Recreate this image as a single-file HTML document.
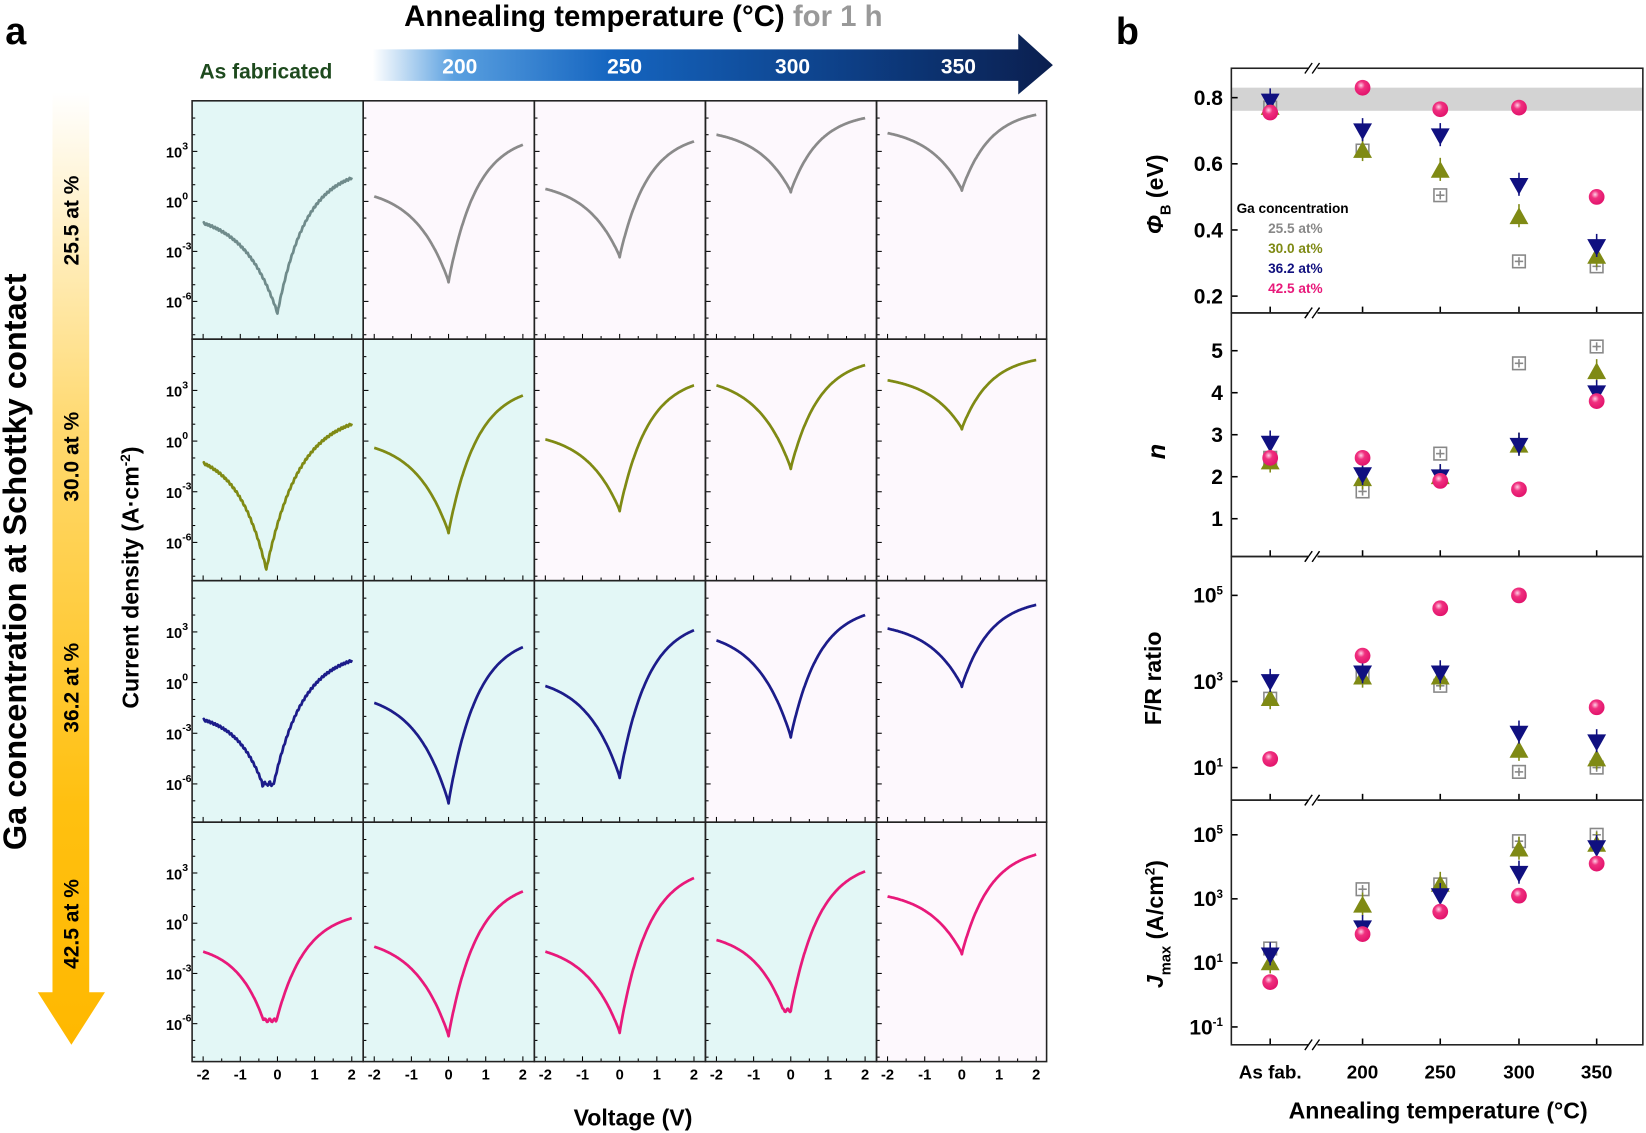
<!DOCTYPE html>
<html><head><meta charset="utf-8"><style>
html,body{margin:0;padding:0;background:#fff}
svg{display:block}
text{font-family:"Liberation Sans",Arial,sans-serif;font-weight:bold}
</style></head><body>
<svg id="s" xmlns="http://www.w3.org/2000/svg" width="1646" height="1133" viewBox="0 0 1568 1079" preserveAspectRatio="none">
<defs>
<linearGradient id="ga" x1="0" x2="1" y1="0" y2="0">
<stop offset="0" stop-color="#ffffff"/><stop offset="0.12" stop-color="#5aa0e0"/><stop offset="0.35" stop-color="#1565c0"/><stop offset="0.7" stop-color="#0d3f86"/><stop offset="1" stop-color="#0b1f4f"/></linearGradient>
<linearGradient id="gv" x1="0" x2="0" y1="0" y2="1">
<stop offset="0" stop-color="#ffffff"/><stop offset="0.35" stop-color="#ffd970"/><stop offset="0.75" stop-color="#ffc010"/><stop offset="1" stop-color="#ffb800"/></linearGradient>
<radialGradient id="pk" cx="0.4" cy="0.35" r="0.7"><stop offset="0" stop-color="#ffd0e6"/><stop offset="0.35" stop-color="#f0307f"/><stop offset="1" stop-color="#e0106a"/></radialGradient>
</defs>
<g id="g"></g>
</svg>
<script>
const g=document.getElementById('g');let h='';
function T(x,y,s,sz,opt){opt=opt||{};h+=`<text x="${x}" y="${y}" font-size="${sz}" fill="${opt.c||'#000'}" text-anchor="${opt.a||'start'}" ${opt.t?`transform="${opt.t}"`:''} ${opt.i?'font-style="italic"':''}>${s}</text>`;}
T(5,42,'a',36);T(1063,42,'b',36);
T(385,25,'Annealing temperature (°C) <tspan fill="#999">for 1 h</tspan>',28);
h+=`<polygon points="355,47 970,47 970,32 1003,62 970,90 970,77 355,77" fill="url(#ga)"/>`;
T(190,75,'As fabricated',20,{c:'#1e4a1e'});
[[438,'200'],[595,'250'],[755,'300'],[913,'350']].forEach(a=>T(a[0],70,a[1],20,{c:'#fff',a:'middle'}));
h+=`<polygon points="50,88 85,88 85,945 100,945 68,995 36,945 50,945" fill="url(#gv)"/>`;
[[210,'25.5 at %'],[435,'30.0 at %'],[655,'36.2 at %'],[880,'42.5 at %']].forEach(a=>T(75,a[0],a[1],20,{a:'middle',t:`rotate(-90 75 ${a[0]})`}));
T(25,535,'Ga concentration at Schottky contact',31,{a:'middle',t:'rotate(-90 25 535)'});
T(132,550,'Current density (A·cm<tspan dy="-8" font-size="13">-2</tspan><tspan dy="8">)</tspan>',22,{a:'middle',t:'rotate(-90 132 550)'});
T(603,1072,'Voltage (V)',22,{a:'middle'});
const cx=[183,346,509,672,835,997],ry=[96,323,553,783,1011];
const cyan=[[1,0,0,0,0],[1,1,0,0,0],[1,1,1,0,0],[1,1,1,1,0]];
const cols=['#8a8a8a','#7f8a14','#1c1c8a','#e8197a'];
const P=[
[[-1.3,-6.7,1.4,0,0],[0.3,-4.8,3.4,0,0],[0.75,-3.3,3.6,0,0],[4.0,0.6,5.0,0,0],[4.1,0.7,5.2,0,0]],
[[-1.3,-7.6,1.0,-0.3,0],[-0.4,-5.4,2.7,0,0],[0.1,-4.1,3.3,0,0],[3.3,-1.6,4.5,0,0],[3.6,0.75,4.8,0,0]],
[[-2.2,-6.0,1.3,-0.25,0.3],[-1.2,-7.1,2.1,0,0],[-0.2,-5.6,3.1,0,0],[2.5,-3.2,4.0,0,0],[3.2,-0.2,4.6,0,0]],
[[-1.7,-5.8,0.3,-0.2,0.35],[-1.4,-6.7,1.9,0,0],[-1.7,-6.5,2.7,0,0],[-1.0,-5.2,3.1,-0.1,0.2],[1.6,-1.8,4.1,0,0]]];
const G=(t,k)=>(1-Math.exp(-k*t))/(1-Math.exp(-k));
for(let r=0;r<4;r++){const top=ry[r],bot=ry[r+1],z=top+(bot-top)*0.422;const ppd=(bot-top)/14.3;
 for(let c=0;c<5;c++){const L=cx[c],R=cx[c+1];
  h+=`<rect x="${L}" y="${top}" width="${R-L}" height="${bot-top}" fill="${cyan[r][c]?'#e3f7f6':'#fdf8fd'}"/>`;
  const X=v=>L+10.5+(v+2)*35.4,Y=l=>z-l*ppd;
  const [s,m,e,v0,pl]=P[r][c];let d='';
  for(let i=0;i<=200;i++){const v=-2+4*i/200;let l;
   const a=v0-pl/2,b=v0+pl/2;
   if(v<a){const t=(a-v)/(a+2);l=m+(s-m)*G(t,2.2);}
   else if(v>b){const t=(v-b)/(2-b);l=m+(e-m)*G(t,2.6);}
   else l=m+0.1*Math.sin(i);
   if(c==0&&r<3) l+=Math.sin(i*1.7)*0.06;
   d+=(i?'L':'M')+X(v).toFixed(1)+','+Y(l).toFixed(1);}
  h+=`<path d="${d}" fill="none" stroke="${r==0&&c==0?'#6f8b8b':cols[r]}" stroke-width="2.6" stroke-linejoin="round"/>`;
  for(let k=-8;k<=6;k++){const y=Y(k);if(y>top+1&&y<bot-1)h+=`<line x1="${L}" x2="${L+(k%3==0?5:3)}" y1="${y}" y2="${y}" stroke="#000"/>`;}
  for(let k=-4;k<=4;k++){const x=X(k/2);h+=`<line x1="${x}" x2="${x}" y1="${bot}" y2="${bot-(k%2==0?5:3)}" stroke="#000"/>`;}
  if(c==0)[3,0,-3,-6].forEach(k=>T(158,Y(k)+6,`10<tspan dy="-8" font-size="10">${k}</tspan>`,14));
  if(r==3)[-2,-1,0,1,2].forEach(k=>T(X(k),1028,k,14,{a:'middle'}));
 }}
for(let r=0;r<4;r++)for(let c=0;c<5;c++)h+=`<rect x="${cx[c]}" y="${ry[r]}" width="${cx[c+1]-cx[c]}" height="${ry[r+1]-ry[r]}" fill="none" stroke="#222" stroke-width="1.5"/>`;
const bx=[1210,1298,1372,1447,1521],bL=1173,bR=1565,by=[65,298,530,762,995];
h+=`<rect x="${bL}" y="83.5" width="${bR-bL}" height="22" fill="#d3d3d3"/>`;
function sq(x,y){h+=`<rect x="${x-6}" y="${y-6}" width="12" height="12" fill="none" stroke="#888" stroke-width="1.5"/><line x1="${x-4}" x2="${x+4}" y1="${y}" y2="${y}" stroke="#888" stroke-width="1.5"/><line x1="${x}" x2="${x}" y1="${y-4}" y2="${y+4}" stroke="#888" stroke-width="1.5"/>`;}
function up(x,y){h+=`<polygon points="${x},${y-9} ${x+9},${y+7} ${x-9},${y+7}" fill="#7f8a14"/>`;}
function dn(x,y){h+=`<polygon points="${x-9},${y-7} ${x+9},${y-7} ${x},${y+9}" fill="#101080"/>`;}
function ci(x,y){h+=`<circle cx="${x}" cy="${y}" r="7.5" fill="url(#pk)"/>`;}
const fns=[sq,up,dn,ci];
const B=[
{f:v=>93-(v-0.8)*315,d:[[0.77,0.64,0.505,0.305,0.29],[0.77,0.64,0.58,0.44,0.32],[0.79,0.70,0.685,0.535,0.35],[0.755,0.83,0.765,0.77,0.50]],tk:[[0.8,'0.8'],[0.6,'0.6'],[0.4,'0.4'],[0.2,'0.2']]},
{f:v=>454-(v-2)*40,d:[[2.45,1.65,2.55,4.7,5.1],[2.35,1.95,2.0,2.75,4.5],[2.8,2.05,2.0,2.75,4.0],[2.45,2.45,1.9,1.7,3.8]],tk:[[5,'5'],[4,'4'],[3,'3'],[2,'2'],[1,'1']]},
{f:v=>649-(v-3)*41,d:[[2.6,3.1,2.9,0.9,1.0],[2.6,3.1,3.1,1.4,1.2],[3.0,3.2,3.2,1.8,1.6],[1.2,3.6,4.7,5.0,2.4]],tk:[[5,'10<tspan dy="-8" font-size="11">5</tspan>'],[3,'10<tspan dy="-8" font-size="11">3</tspan>'],[1,'10<tspan dy="-8" font-size="11">1</tspan>']]},
{f:v=>856-(v-3)*30.5,d:[[1.45,3.3,3.45,4.8,5.0],[1.0,2.8,3.45,4.55,4.7],[1.25,2.1,3.1,3.8,4.6],[0.4,1.9,2.6,3.1,4.1]],tk:[[5,'10<tspan dy="-8" font-size="11">5</tspan>'],[3,'10<tspan dy="-8" font-size="11">3</tspan>'],[1,'10<tspan dy="-8" font-size="11">1</tspan>'],[-1,'10<tspan dy="-8" font-size="11">-1</tspan>']]}];
B.forEach((p,r)=>{const top=by[r],bot=by[r+1];
 p.tk.forEach(t=>{const y=p.f(t[0]);h+=`<line x1="${bL}" x2="${bL+6}" y1="${y}" y2="${y}" stroke="#000" stroke-width="1.5"/>`;T(bL-8,y+7,t[1],20,{a:'end'});});
 bx.forEach(x=>h+=`<line x1="${x}" x2="${x}" y1="${bot}" y2="${bot-6}" stroke="#000" stroke-width="1.5"/>`);
 for(let s=0;s<4;s++)p.d[s].forEach((v,i)=>{if(s==1||s==2){h+=`<line x1="${bx[i]}" x2="${bx[i]}" y1="${p.f(v)-12}" y2="${p.f(v)+10}" stroke="${s==1?'#7f8a14':'#101080'}" stroke-width="1.5"/>`;}fns[s](bx[i],p.f(v));});
 h+=`<rect x="${bL}" y="${top}" width="${bR-bL}" height="${bot-top}" fill="none" stroke="#222" stroke-width="1.5"/>`;
 [top,bot].forEach(y=>h+=`<rect x="1246" y="${y-4}" width="9" height="8" fill="#fff"/><line x1="1243" x2="1250" y1="${y+5}" y2="${y-5}" stroke="#000" stroke-width="1.3"/><line x1="1250" x2="1257" y1="${y+5}" y2="${y-5}" stroke="#000" stroke-width="1.3"/>`);
});
T(1178,203,'Ga concentration',13);
[['25.5 at%','#888'],['30.0 at%','#7f8a14'],['36.2 at%','#101080'],['42.5 at%','#e8197a']].forEach((a,i)=>T(1208,222+i*19,a[0],13,{c:a[1]}));
T(1108,185,'<tspan font-style="italic">Φ</tspan><tspan dy="7" font-size="14">B</tspan><tspan dy="-7"> (eV)</tspan>',22,{a:'middle',t:'rotate(-90 1108 185)'});
T(1110,430,'n',24,{a:'middle',i:1,t:'rotate(-90 1110 430)'});
T(1106,646,'F/R ratio',22,{a:'middle',t:'rotate(-90 1106 646)'});
T(1108,880,'<tspan font-style="italic">J</tspan><tspan dy="7" font-size="14">max</tspan><tspan dy="-7"> (A/cm</tspan><tspan dy="-8" font-size="13">2</tspan><tspan dy="8">)</tspan>',22,{a:'middle',t:'rotate(-90 1108 880)'});
['As fab.','200','250','300','350'].forEach((s,i)=>T(bx[i],1027,s,18,{a:'middle'}));
T(1370,1065,'Annealing temperature (°C)',22,{a:'middle'});
g.innerHTML=h;
</script>
</body></html>
